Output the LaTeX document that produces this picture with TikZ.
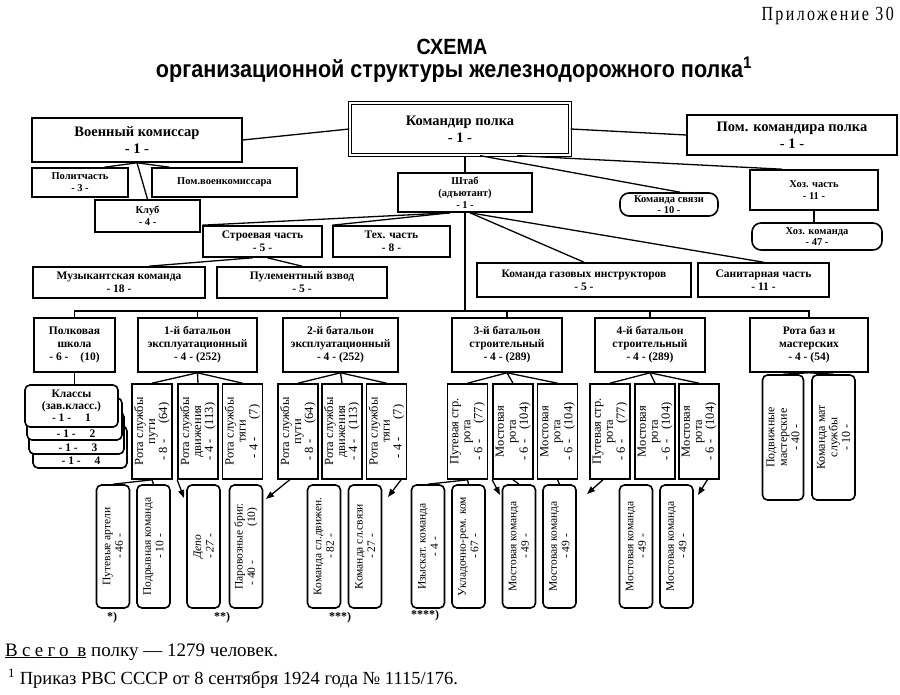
\documentclass[tikz,border=0pt]{standalone}
\usepackage{fontspec}
\setmainfont{Liberation Serif}
\newfontfamily\titlefont[FakeStretch=0.9]{Liberation Sans}
\newfontfamily\appfont[LetterSpace=12,FakeStretch=0.8]{Liberation Serif}
\newfontfamily\spcfont[LetterSpace=22]{Liberation Serif}
\usetikzlibrary{calc,arrows.meta}
\begin{document}
\begin{tikzpicture}[x=1pt,y=-1pt,
  box/.style={draw,line width=1.6pt,align=center,inner sep=1pt,fill=white},
  conn/.style={line width=1.3pt},
  arr/.style={line width=1.3pt,-{Triangle[length=8pt,width=6pt]}},
  big/.style={font=\fontsize{14.5}{17}\selectfont\bfseries},
  mid/.style={font=\fontsize{11.5}{13}\selectfont\bfseries},
  sml/.style={font=\fontsize{10.5}{12}\selectfont\bfseries},
  vtx/.style={box,rotate=90,font=\fontsize{12.5}{12}\selectfont,minimum width=95,minimum height=40},
  btx/.style={box,rotate=90,rounded corners=5pt,font=\fontsize{11.5}{12.5}\selectfont,minimum width=123,minimum height=33},
  mtx/.style={box,rotate=90,rounded corners=5pt,font=\fontsize{12}{12.5}\selectfont,minimum width=125,minimum height=41},
  kls/.style={box,rounded corners=5pt,font=\fontsize{11.5}{12}\selectfont\bfseries,minimum width=93,minimum height=42},
  klab/.style={font=\fontsize{11.5}{12}\selectfont\bfseries,inner sep=0},
  fnmark/.style={font=\fontsize{12}{12}\selectfont\bfseries}
]
\useasboundingbox (0,0) rectangle (900,695);

% header
\node[anchor=east,font=\appfont\fontsize{20}{22}\selectfont,inner sep=0] (app) at (894,16) {Приложение 30};
\node[font=\titlefont\bfseries\fontsize{22}{24}\selectfont,inner sep=0] (ttl) at (452,47) {СХЕМА};
\node[font=\titlefont\bfseries\fontsize{24}{26}\selectfont,inner sep=0] (sub) at (454,70) {организационной структуры железнодорожного полка\textsuperscript{1}};

% top level
\node[box,big,double,double distance=2pt,line width=1.3pt,minimum width=220,minimum height=52] (kom) at (460,129) {Командир полка\\- 1 -};
\node[box,big,minimum width=210,minimum height=44] (voen) at (137,140) {Военный комиссар\\- 1 -};
\node[box,big,minimum width=210,minimum height=40] (pom) at (792,135) {Пом. командира полка\\- 1 -};

\node[box,sml,minimum width=96,minimum height=29] (polit) at (80,182.5) {Политчасть\\- 3 -};
\node[box,sml,minimum width=145,minimum height=29] (pomv) at (224.5,182.5) {Пом.военкомиссара};
\node[box,sml,minimum width=105,minimum height=32] (klub) at (147.5,216) {Клуб\\- 4 -};
\node[box,sml,minimum width=134,minimum height=39] (shtab) at (465,192.5) {Штаб\\(адъютант)\\- 1 -};
\node[box,font=\fontsize{10.5}{11}\selectfont\bfseries,rounded corners=9pt,minimum width=98,minimum height=23] (svyaz) at (669,204.5) {Команда связи\\- 10 -};
\node[box,sml,minimum width=128,minimum height=40] (hoz) at (814,190) {Хоз. часть\\- 11 -};
\node[box,font=\fontsize{10.5}{11.5}\selectfont\bfseries,rounded corners=9pt,minimum width=130,minimum height=27] (hozk) at (817,236.5) {Хоз. команда\\- 47 -};

\node[box,mid,minimum width=119,minimum height=31] (stroy) at (262.5,241.5) {Строевая часть\\- 5 -};
\node[box,mid,minimum width=117,minimum height=31] (teh) at (391.5,241.5) {Тех. часть\\- 8 -};
\node[box,mid,minimum width=172,minimum height=31] (muz) at (119,282.5) {Музыкантская команда\\- 18 -};
\node[box,mid,minimum width=170,minimum height=31] (pul) at (302,282.5) {Пулементный взвод\\- 5 -};
\node[box,mid,minimum width=214,minimum height=34] (gaz) at (584,280) {Команда газовых инструкторов\\- 5 -};
\node[box,mid,minimum width=131,minimum height=34] (san) at (763.5,280) {Санитарная часть\\- 11 -};

% battalions
\node[box,mid,minimum width=81,minimum height=54] (shk) at (74.5,345) {Полковая\\школа\\- 6 -\hspace{12pt}(10)};
\node[box,mid,minimum width=119,minimum height=54] (b1) at (197.5,345) {1-й батальон\\эксплуатационный\\- 4 - (252)};
\node[box,mid,minimum width=115,minimum height=54] (b2) at (340.5,345) {2-й батальон\\эксплуатационный\\- 4 - (252)};
\node[box,mid,minimum width=110,minimum height=54] (b3) at (507,345) {3-й батальон\\строительный\\- 4 - (289)};
\node[box,mid,minimum width=110,minimum height=54] (b4) at (650,345) {4-й батальон\\строительный\\- 4 - (289)};
\node[box,mid,minimum width=118,minimum height=54] (rb) at (809,345) {Рота баз и\\мастерских\\- 4 - (54)};

% classes stack
\node[kls,minimum width=94] (k4) at (80,447) {};
\node[kls,minimum width=95] (k3) at (76.5,433) {};
\node[kls,minimum width=95] (k2) at (74.5,419) {};
\node[kls] (k1) at (71.5,406) {Классы\\(зав.класс.)\\- 1 -\hspace{14pt}1};
\node[klab] (l2) at (76,434) {- 1 -\hspace{14pt}2};
\node[klab] (l3) at (78,447.5) {- 1 -\hspace{14pt}3};
\node[klab] (l4) at (81,461) {- 1 -\hspace{14pt}4};

% companies
\node[vtx] (r11) at (152,431.5) {Рота службы\\пути\\- 8 -\hspace{16pt}(64)};
\node[vtx] (r12) at (198,431.5) {Рота службы\\движения\\- 4 -\hspace{10pt}(113)};
\node[vtx] (r13) at (242.5,431.5) {Рота службы\\тяги\\- 4 -\hspace{18pt}(7)};
\node[vtx] (r21) at (298,431.5) {Рота службы\\пути\\- 8 -\hspace{16pt}(64)};
\node[vtx] (r22) at (342,431.5) {Рота службы\\движения\\- 4 -\hspace{10pt}(113)};
\node[vtx] (r23) at (386.5,431.5) {Рота службы\\тяги\\- 4 -\hspace{18pt}(7)};
\node[vtx] (r31) at (467.5,431.5) {Путевая стр.\\рота\\- 6 -\hspace{16pt}(77)};
\node[vtx] (r32) at (513,431.5) {Мостовая\\рота\\- 6 -\hspace{10pt}(104)};
\node[vtx] (r33) at (557.5,431.5) {Мостовая\\рота\\- 6 -\hspace{10pt}(104)};
\node[vtx] (r41) at (610,431.5) {Путевая стр.\\рота\\- 6 -\hspace{16pt}(77)};
\node[vtx] (r42) at (655,431.5) {Мостовая\\рота\\- 6 -\hspace{10pt}(104)};
\node[vtx] (r43) at (699,431.5) {Мостовая\\рота\\- 6 -\hspace{10pt}(104)};
\node[mtx] (m1) at (783,437.5) {Подвижные\\мастерские\\- 40 -};
\node[mtx,minimum height=43] (m2) at (833.5,437.5) {Команда мат\\службы\\- 10 -};

% bottom teams
\node[btx] (p1) at (113,546.5) {Путевые артели\\- 46 -};
\node[btx] (p2) at (153.5,546.5) {Подрывная команда\\- 10 -};
\node[btx] (p3) at (203.5,546.5) {\itshape Депо\\\itshape - 27 -};
\node[btx] (p4) at (246,546.5) {Паровозные бриг.\\- 40 -\hspace{34pt}(10)};
\node[btx] (p5) at (324,546.5) {Команда сл.движен.\\- 82 -};
\node[btx] (p6) at (365,546.5) {Команда сл.связи\\- 27 -};
\node[btx] (p7) at (428,546.5) {Изыскат. команда\\- 4 -};
\node[btx] (p8) at (468.5,546.5) {Укладочно-рем. ком\\- 67 -};
\node[btx] (p9) at (519,546.5) {Мостовая команда\\- 49 -};
\node[btx] (p10) at (559.5,546.5) {Мостовая команда\\- 49 -};
\node[btx] (p11) at (636,546.5) {Мостовая команда\\- 49 -};
\node[btx] (p12) at (676.5,546.5) {Мостовая команда\\- 49 -};

\node[fnmark] (f1) at (112,618) {*)};
\node[fnmark] (f2) at (222,618) {**)};
\node[fnmark] (f3) at (340,618) {***)};
\node[fnmark] (f4) at (425,616) {****)};

% connectors
\draw[conn] (voen.east) -- (kom.west);
\draw[conn] (kom.east) -- (pom.west);
\draw[conn] (voen.south) -- ($(polit.north)!0.5!(polit.north east)$);
\draw[conn] (voen.south) -- ($(pomv.north west)!0.25!(pomv.north)$);
\draw[conn] (voen.south) -- (klub.north);
\draw[conn] (shtab.north |- kom.south) -- (shtab.north);
\draw[conn] ($(kom.south)+(20,0)$) -- ($(svyaz.north)+(11,0)$);
\draw[conn] ($(kom.south)+(57,0)$) -- ($(hoz.north west)+(33,0)$);
\draw[conn] (hoz.south) -- (hoz.south |- hozk.north);
\draw[conn] ($(shtab.south)+(-15,0)$) -- (stroy.north west);
\draw[conn] ($(shtab.south)+(-15,0)$) -- (teh.north west);
\draw[conn] ($(shtab.south)+(5,0)$) -- (gaz.north);
\draw[conn] ($(shtab.south)+(5,0)$) -- (san.north);
\draw[conn] ($(stroy.south)+(-10,0)$) -- ($(muz.north)+(30,0)$);
\draw[conn] ($(stroy.south)+(5,0)$) -- (pul.north);

\coordinate (bus) at (0,311);
\draw[conn] (shk.north) -- (shk.north |- bus) -- (rb.north |- bus) -- (rb.north);
\draw[conn] (shtab.south) -- (shtab.south |- bus);
\foreach \b in {b1,b2,b3,b4} \draw[conn] (\b.north) -- (\b.north |- bus);

\draw[conn] (shk.south) -- (shk.south |- k1.north);
\foreach \r in {r11,r12,r13} \draw[conn] (b1.south) -- (\r.east);
\foreach \r in {r21,r22,r23} \draw[conn] (b2.south) -- (\r.east);
\foreach \r in {r31,r32,r33} \draw[conn] (b3.south) -- (\r.east);
\foreach \r in {r41,r42,r43} \draw[conn] (b4.south) -- (\r.east);
\draw[conn] (rb.south) -- (m1.east);
\draw[conn] (rb.south) -- (m2.east);

\draw[conn] (r11.west) -- (p1.east);
\draw[conn] (r11.west) -- (p2.east);
\draw[conn] (r31.west) -- (p7.east);
\draw[conn] (r31.west) -- (p8.east);
\draw[conn] (r32.west) -- (p9.east);
\draw[conn] (r33.west) -- (p10.east);

\coordinate (t1) at (184,498);
\coordinate (t2) at (266,499);
\coordinate (t3) at (388,497);
\coordinate (t4) at (500,495);
\coordinate (t5) at (587,494);
\coordinate (t6) at (698,495);
\draw[arr] (r12.north west) -- (t1);
\draw[arr] ($(r21.north west)!0.3!(r21.south west)$) -- (t2);
\draw[arr] ($(r23.north west)!0.85!(r23.south west)$) -- (t3);
\draw[arr] (r32.north west) -- (t4);
\draw[arr] ($(r41.north west)!0.33!(r41.south west)$) -- (t5);
\draw[arr] ($(r43.north west)!0.7!(r43.south west)$) -- (t6);

% footer
\node[anchor=base west,font=\fontsize{19}{21}\selectfont,inner sep=0] (tot) at (5,656) {\underline{\spcfont Всего в}\ полку — 1279 человек.};
\node[anchor=base west,font=\fontsize{18.5}{20}\selectfont,inner sep=0] (fn) at (8,684) {\textsuperscript{1} Приказ РВС СССР от 8 сентября 1924 года № 1115/176.};
\end{tikzpicture}
\end{document}
